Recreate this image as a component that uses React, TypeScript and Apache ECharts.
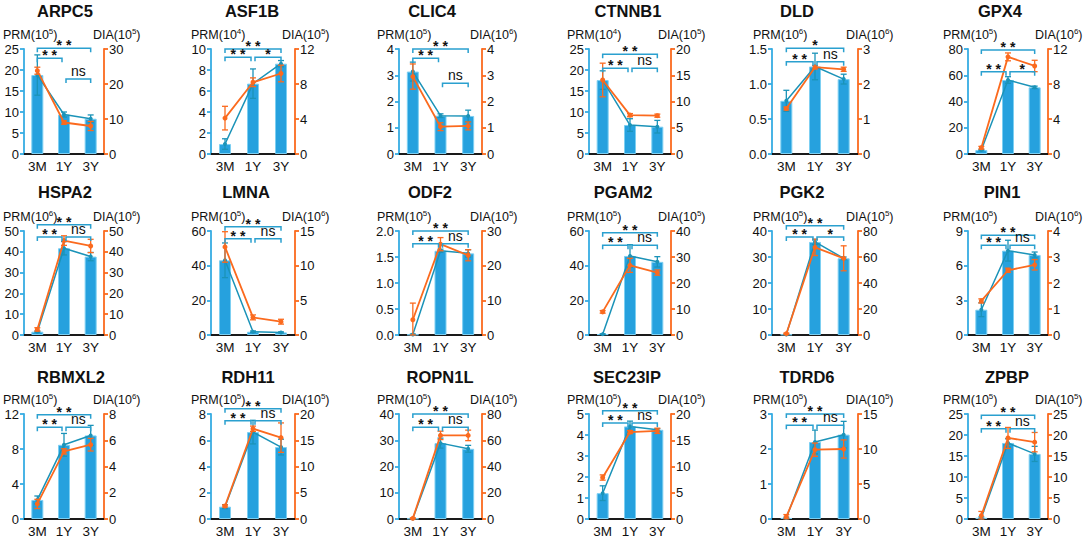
import React, { useEffect, useRef } from 'react';
import * as echarts from 'echarts';

// ---------------- data ----------------
const categories = ['3M', '1Y', '3Y'];
const genes = [
  'ARPC5', 'ASF1B', 'CLIC4', 'CTNNB1', 'DLD', 'GPX4',
  'HSPA2', 'LMNA', 'ODF2', 'PGAM2', 'PGK2', 'PIN1',
  'RBMXL2', 'RDH11', 'ROPN1L', 'SEC23IP', 'TDRD6', 'ZPBP',
];
const prmExp = [5, 4, 5, 4, 6, 5, 6, 5, 5, 5, 5, 5, 5, 5, 5, 5, 5, 5];
const diaExp = [5, 5, 6, 5, 6, 6, 6, 6, 5, 5, 5, 6, 6, 5, 5, 5, 5, 5];

const prmMax = [25, 10, 4, 25, 1.5, 80, 50, 60, 2, 60, 40, 9, 12, 8, 40, 5, 3, 25];
const prmStep = [5, 2, 1, 5, 0.5, 20, 10, 20, 0.5, 20, 10, 3, 4, 2, 10, 1, 1, 5];
const diaMax = [30, 12, 4, 20, 3, 12, 50, 15, 30, 40, 80, 4, 8, 20, 80, 20, 15, 25];
const diaStep = [10, 4, 1, 5, 1, 4, 10, 5, 10, 10, 20, 1, 2, 5, 20, 5, 5, 5];

const prmMean = [
  [18.8, 9.4, 8.4],
  [0.95, 6.7, 8.6],
  [3.14, 1.46, 1.45],
  [17.6, 6.9, 6.5],
  [0.76, 1.25, 1.07],
  [3.0, 56.4, 50.8],
  [1.6, 41.7, 37.7],
  [43.1, 1.9, 1.5],
  [0.01, 1.62, 1.57],
  [0.5, 45.6, 42.2],
  [0.2, 35.8, 29.5],
  [2.19, 7.3, 6.93],
  [2.18, 8.48, 9.55],
  [0.94, 6.62, 5.48],
  [0.2, 28.9, 26.75],
  [1.23, 4.41, 4.25],
  [0.03, 2.2, 2.41],
  [0.3, 18.1, 15.5],
];
const prmSd = [
  [4.8, 0.6, 0.9],
  [0.5, 1.4, 0.3],
  [0.36, 0.07, 0.22],
  [2.2, 1.5, 1.5],
  [0.15, 0.19, 0.07],
  [0.5, 2.5, 0.9],
  [0.3, 3.2, 2.0],
  [10, 0.4, 0.3],
  [0.01, 0.03, 0.07],
  [0.2, 6.5, 3.0],
  [0.1, 1.0, 0.5],
  [0.6, 0.9, 0.25],
  [0.45, 1.3, 1.15],
  [0.15, 0.9, 0.6],
  [0.1, 1.9, 1.3],
  [0.35, 0.25, 0.05],
  [0.02, 0.34, 0.38],
  [0.2, 1.0, 1.8],
];
const diaMean = [
  [23.8, 9.0, 8.0],
  [4.1, 8.2, 9.2],
  [2.95, 1.04, 1.07],
  [14.1, 7.4, 7.3],
  [1.3, 2.48, 2.42],
  [0.72, 11.1, 10.06],
  [2.7, 45.4, 42.8],
  [12.7, 2.54, 1.92],
  [4.4, 26.2, 23.0],
  [8.9, 26.8, 24.0],
  [1.0, 67.4, 59.0],
  [1.31, 2.49, 2.7],
  [1.15, 5.15, 5.66],
  [2.48, 17.2, 15.5],
  [0.5, 63.7, 63.7],
  [7.9, 16.56, 16.8],
  [0.33, 9.9, 10.0],
  [0.8, 19.3, 18.3],
];
const diaSd = [
  [1.0, 0.5, 1.3],
  [1.35, 0.5, 0.95],
  [0.48, 0.15, 0.15],
  [3.2, 0.3, 0.3],
  [0.04, 0.05, 0.06],
  [0.15, 0.45, 0.65],
  [0.8, 2.3, 3.2],
  [2.2, 0.35, 0.35],
  [4.8, 1.9, 1.6],
  [0.5, 2.7, 1.0],
  [0.5, 6.3, 9.6],
  [0.08, 0.08, 0.2],
  [0.35, 0.2, 0.48],
  [0.2, 0.5, 2.8],
  [0.3, 3.2, 4.0],
  [0.5, 0.3, 0.5],
  [0.3, 0.95, 1.3],
  [1.0, 2.5, 2.3],
];
// significance: [3M vs 3Y, 3M vs 1Y, 1Y vs 3Y]
const sigLabels = [
  ['* *', '* *', 'ns'], ['* *', '* *', '*'], ['* *', '* *', 'ns'], ['* *', '* *', 'ns'], ['*', '* *', 'ns'], ['* *', '* *', '*'],
  ['* *', '* *', 'ns'], ['* *', '* *', 'ns'], ['* *', '* *', 'ns'], ['* *', '* *', 'ns'], ['* *', '* *', '*'], ['* *', '* *', 'ns'],
  ['* *', '* *', 'ns'], ['* *', '* *', 'ns'], ['* *', '* *', 'ns'], ['* *', '* *', 'ns'], ['* *', '* *', 'ns'], ['* *', '* *', 'ns'],
];
const sigSpans = [[0, 2], [0, 1], [1, 2]];
// bracket heights as a fraction of the PRM axis maximum
const bracketLevels = [
  [1.006, 0.911, 0.714], [1.0, 0.921, 0.921], [1.0, 0.911, 0.673], [0.949, 0.816, 0.816], [1.006, 0.879, 0.879], [0.99, 0.784, 0.784],
  [1.06, 0.942, 0.942], [1.04, 0.926, 0.926], [1.0, 0.878, 0.878], [0.984, 0.863, 0.863], [1.05, 0.942, 0.942], [0.958, 0.863, 0.863],
  [0.994, 0.873, 0.873], [1.05, 0.936, 0.936], [1.0, 0.873, 0.873], [1.03, 0.914, 0.914], [1.0, 0.892, 0.892], [0.987, 0.86, 0.86],
];

// ---------------- layout & style ----------------
const COLS = [[24, 104], [211, 295], [399, 482], [589, 671], [772, 858], [968, 1048]];
const ROWS = [[49, 154], [231, 335], [414, 519]];
const TITLE_X = [
  [65, 252, 432, 628, 797, 1000],
  [65, 246, 430, 623, 802, 1002],
  [71, 248, 440, 627, 807, 1007],
];
const TITLE_TOP = [2, 183, 368];
const PRM_X = [3, 191, 377, 567, 753, 943];
const DIA_X = [93, 282, 470, 658, 846, 1035];
const LABEL_Y = [35, 217, 400];

const FONT = '"Liberation Sans", Arial, Helvetica, sans-serif';
const BLUE_AXIS = '#36ace3';
const BAR = '#26a1de';
const BAR_BORDER = '#7ccff2';
const BLUE_LINE = '#1b93b8';
const ORANGE = '#fb6a1e';
const BRACKET = '#2aa0cf';
const INK = '#111111';

const rich = {
  a: { fontSize: 12.5, fontFamily: FONT, fontWeight: 'normal', color: INK, lineHeight: 16 },
  s: { fontSize: 8, fontFamily: FONT, fontWeight: 'normal', color: INK, lineHeight: 8, verticalAlign: 'top' },
};

function errSeries(k: number, yi: number, mean: number[], sd: number[], color: string, z: number) {
  return {
    type: 'custom',
    xAxisIndex: k,
    yAxisIndex: yi,
    z,
    silent: true,
    data: mean.map((m, i) => [i, Math.max(0, m - sd[i]), m + sd[i]]),
    encode: { x: 0, y: [1, 2] },
    renderItem: (params: any, api: any) => {
      const i = params.dataIndex;
      const lo = api.coord([i, api.value(1)]);
      const hi = api.coord([i, api.value(2)]);
      const w = 3;
      const st = { stroke: color, lineWidth: 1.3 };
      return {
        type: 'group',
        children: [
          { type: 'line', shape: { x1: lo[0], y1: lo[1], x2: hi[0], y2: hi[1] }, style: st },
          { type: 'line', shape: { x1: hi[0] - w, y1: hi[1], x2: hi[0] + w, y2: hi[1] }, style: st },
          { type: 'line', shape: { x1: lo[0] - w, y1: lo[1], x2: lo[0] + w, y2: lo[1] }, style: st },
        ],
      };
    },
  };
}

function bracketSeries(k: number) {
  const max = prmMax[k];
  const lv = bracketLevels[k];
  const lab = sigLabels[k];
  return {
    type: 'custom',
    xAxisIndex: k,
    yAxisIndex: 2 * k,
    z: 6,
    silent: true,
    clip: false,
    data: sigSpans.map((s, j) => [s[0], lv[j] * max]),
    encode: { x: 0, y: 1 },
    renderItem: (params: any, api: any) => {
      const j = params.dataIndex;
      const s = sigSpans[j];
      const y = api.coord([0, lv[j] * max])[1];
      let xa = api.coord([s[0], 0])[0];
      let xb = api.coord([s[1], 0])[0];
      if (j === 1) xb -= 2;
      if (j === 2) xa += 2;
      const txt = lab[j];
      const star = txt !== 'ns';
      return {
        type: 'group',
        children: [
          {
            type: 'polyline',
            shape: { points: [[xa, y + 4], [xa, y], [xb, y], [xb, y + 4]] },
            style: { stroke: BRACKET, lineWidth: 1.5, fill: null },
          },
          {
            type: 'text',
            x: (xa + xb) / 2,
            y: star ? y - 3 : y - 1,
            style: {
              text: txt,
              fill: INK,
              font: `${star ? 'bold 14px' : '14px'} ${FONT}`,
              align: 'center',
              verticalAlign: star ? 'middle' : 'bottom',
              textAlign: 'center',
              textVerticalAlign: star ? 'middle' : 'bottom',
            },
          },
        ],
      };
    },
  };
}

function buildOption() {
  const grid: any[] = [];
  const xAxis: any[] = [];
  const yAxis: any[] = [];
  const series: any[] = [];
  const title: any[] = [];

  genes.forEach((gene, k) => {
    const r = Math.floor(k / 6);
    const c = k % 6;
    const [gl, gr] = COLS[c];
    const [gt, gb] = ROWS[r];
    grid.push({ left: gl, top: gt, width: gr - gl, height: gb - gt, containLabel: false });

    xAxis.push({
      type: 'category',
      gridIndex: k,
      data: categories,
      boundaryGap: true,
      axisLine: { show: true, lineStyle: { color: '#1a1a1a', width: 2 } },
      axisTick: { show: false },
      axisLabel: { color: INK, fontSize: 13.5, fontFamily: FONT, margin: 5 },
      splitLine: { show: false },
    });

    const pStep = prmStep[k];
    yAxis.push({
      type: 'value',
      gridIndex: k,
      position: 'left',
      min: 0,
      max: prmMax[k],
      interval: pStep,
      axisLine: { show: true, lineStyle: { color: BLUE_AXIS, width: 1.8 } },
      axisTick: { show: true, length: 4, lineStyle: { color: BLUE_AXIS, width: 1.8 } },
      axisLabel: {
        color: INK,
        fontSize: 13,
        fontFamily: FONT,
        margin: 5,
        formatter: (v: number) => (pStep < 1 ? v.toFixed(1) : String(v)),
      },
      splitLine: { show: false },
    });
    yAxis.push({
      type: 'value',
      gridIndex: k,
      position: 'right',
      min: 0,
      max: diaMax[k],
      interval: diaStep[k],
      axisLine: { show: true, lineStyle: { color: ORANGE, width: 1.8 } },
      axisTick: { show: true, length: 4, lineStyle: { color: ORANGE, width: 1.8 } },
      axisLabel: { color: INK, fontSize: 13, fontFamily: FONT, margin: 5 },
      splitLine: { show: false },
    });

    const yL = 2 * k;
    const yR = 2 * k + 1;

    series.push({
      type: 'bar',
      name: gene + ' PRM',
      xAxisIndex: k,
      yAxisIndex: yL,
      data: prmMean[k],
      barWidth: 12,
      itemStyle: { color: BAR, borderColor: BAR_BORDER, borderWidth: 1 },
      z: 2,
      silent: true,
    });
    series.push({
      type: 'line',
      xAxisIndex: k,
      yAxisIndex: yL,
      data: prmMean[k],
      symbol: 'circle',
      symbolSize: 4,
      lineStyle: { color: BLUE_LINE, width: 1.5 },
      itemStyle: { color: BLUE_LINE },
      z: 3,
      silent: true,
    });
    series.push(errSeries(k, yL, prmMean[k], prmSd[k], BLUE_LINE, 3));
    series.push({
      type: 'line',
      xAxisIndex: k,
      yAxisIndex: yR,
      data: diaMean[k],
      symbol: 'circle',
      symbolSize: 5,
      lineStyle: { color: ORANGE, width: 1.8 },
      itemStyle: { color: ORANGE },
      z: 4,
      silent: true,
    });
    series.push(errSeries(k, yR, diaMean[k], diaSd[k], ORANGE, 4));
    series.push(bracketSeries(k));

    title.push({
      text: gene,
      left: TITLE_X[r][c],
      top: TITLE_TOP[r],
      textAlign: 'center',
      padding: 0,
      textStyle: { fontSize: 16.5, fontWeight: 'bold', color: INK, fontFamily: FONT },
    });
    title.push({
      text: `{a|PRM(10}{s|${prmExp[k]}}{a|)}`,
      left: PRM_X[c],
      top: LABEL_Y[r] - 8,
      padding: 0,
      textStyle: { fontWeight: 'normal', fontSize: 12.5, rich },
    });
    title.push({
      text: `{a|DIA(10}{s|${diaExp[k]}}{a|)}`,
      left: DIA_X[c],
      top: LABEL_Y[r] - 8,
      padding: 0,
      textStyle: { fontWeight: 'normal', fontSize: 12.5, rich },
    });
  });

  return { animation: false, backgroundColor: '#ffffff', grid, xAxis, yAxis, series, title };
}

export default function App() {
  const ref = useRef<HTMLDivElement>(null);
  useEffect(() => {
    if (!ref.current) return;
    const chart = echarts.init(ref.current, undefined, { renderer: 'svg' });
    chart.setOption(buildOption() as any);
    return () => chart.dispose();
  }, []);
  return (
    <div
      ref={ref}
      style={{ position: 'absolute', left: 0, top: 0, width: 1084, height: 539, background: '#fff' }}
    />
  );
}
